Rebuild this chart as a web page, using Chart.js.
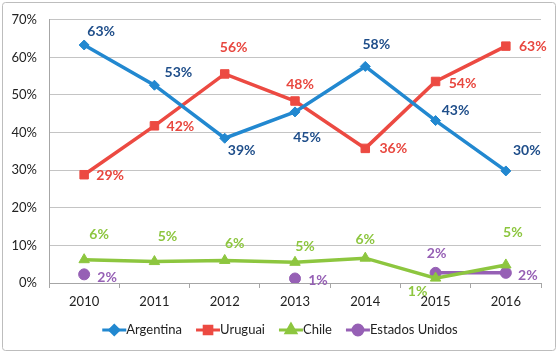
<!DOCTYPE html>
<html><head><meta charset="utf-8">
<script src="https://cdn.jsdelivr.net/npm/chart.js@4.4.0/dist/chart.umd.min.js"></script>
<style>html,body{margin:0;padding:0;background:#fff}#wrap{width:558px;height:353px;position:relative}</style>
</head><body><div id="wrap"><canvas id="c" width="558" height="353"></canvas></div>
<script>
const years = ['2010','2011','2012','2013','2014','2015','2016'];
const argentina = [63.3, 52.6, 38.5, 45.5, 57.6, 43.2, 29.8];
const uruguai = [28.8, 41.8, 55.6, 48.4, 35.8, 53.6, 63.0];
const chile = [6.2, 5.7, 6.0, 5.5, 6.6, 1.3, 4.8];
const estadosUnidos = [2.3, null, null, 1.2, null, 2.7, 2.7];
const argentinaLabels = ['63%','53%','39%','45%','58%','43%','30%'];
const uruguaiLabels = ['29%','42%','56%','48%','36%','54%','63%'];
const chileLabels = ['6%','5%','6%','5%','6%','1%','5%'];
const estadosUnidosLabels = ['2%','','','1%','','2%','2%'];
const yTicks = [0,10,20,30,40,50,60,70];

const FONT = 'Lato, "Liberation Sans", sans-serif';

const labelOffsets = [
  [[17,-14],[24,-13],[17,12],[12,26],[11,-22],[20,-10],[21,-20]],
  [[26,1],[26,1],[9,-26],[5,-17],[28,0],[27,2],[27,0]],
  [[15,-25],[13,-25],[10,-17],[10,-16],[0,-19],[-18,13],[7,-32]],
  [[23,3],[0,0],[0,0],[23,2],[0,0],[1,-19],[22,3]]
];
const labelColors = ['#1F4E8A','#E8473F','#8DC63F','#9660B5'];
const allLabels = [argentinaLabels, uruguaiLabels, chileLabels, estadosUnidosLabels];

const pointLabels = {
  id: 'pointLabels',
  afterDatasetsDraw(chart) {
    const ctx = chart.ctx;
    ctx.save();
    ctx.font = 'bold 14px ' + FONT;
    ctx.textAlign = 'center';
    ctx.textBaseline = 'middle';
    chart.data.datasets.forEach((ds, di) => {
      const meta = chart.getDatasetMeta(di);
      meta.data.forEach((pt, i) => {
        const txt = allLabels[di][i];
        if (!txt || ds.data[i] == null) return;
        const off = labelOffsets[di][i];
        ctx.fillStyle = labelColors[di];
        ctx.fillText(txt, pt.x + off[0], pt.y + off[1]);
      });
    });
    ctx.restore();
  }
};

const frameAndLegend = {
  id: 'frameAndLegend',
  beforeDraw(chart) {
    const ctx = chart.ctx;
    ctx.save();
    ctx.fillStyle = '#fff';
    ctx.fillRect(0, 0, chart.width, chart.height);
    ctx.strokeStyle = '#bdbdbd';
    ctx.lineWidth = 1;
    ctx.beginPath();
    if (ctx.roundRect) ctx.roundRect(2.5, 2.5, 553, 348, 3); else ctx.rect(2.5, 2.5, 553, 348);
    ctx.stroke();
    ctx.restore();
  },
  afterDraw(chart) {
    const ctx = chart.ctx;
    ctx.save();
    ctx.font = '13px ' + FONT;
    ctx.textBaseline = 'middle';
    const lineLen = 24, gap = 14, y = 330;
    const items = chart.data.datasets.map(ds => ({ds, w: lineLen + ctx.measureText(ds.label).width}));
    const total = items.reduce((s, it) => s + it.w, 0) + gap * (items.length - 1);
    let x = 280 - total / 2;
    items.forEach(it => {
      const ds = it.ds;
      ctx.strokeStyle = ds.borderColor;
      ctx.lineWidth = 3;
      ctx.beginPath();
      ctx.moveTo(x, y); ctx.lineTo(x + lineLen, y); ctx.stroke();
      ctx.fillStyle = ds.pointBackgroundColor;
      ctx.strokeStyle = ds.pointBorderColor;
      Chart.helpers.drawPoint(ctx, {pointStyle: ds.pointStyle, radius: ds.pointRadius * 0.9, rotation: 0, borderWidth: 1}, x + lineLen / 2, y);
      ctx.fillStyle = '#222';
      ctx.textAlign = 'left';
      ctx.fillText(ds.label, x + lineLen, y);
      x += it.w + gap;
    });
    ctx.restore();
  }
};

function mkDs(label, data, color, style, radius) {
  return {
    label, data,
    borderColor: color, backgroundColor: color,
    pointBackgroundColor: color, pointBorderColor: color,
    pointStyle: style, pointRadius: radius, pointBorderWidth: 1,
    borderWidth: 3.5, tension: 0, spanGaps: false
  };
}

new Chart(document.getElementById('c'), {
  type: 'line',
  data: {
    labels: years,
    datasets: [
      mkDs('Argentina', argentina, '#2288D0', 'rectRot', 5),
      mkDs('Uruguai', uruguai, '#EC4A42', 'rect', 6),
      mkDs('Chile', chile, '#8DC63F', 'triangle', 6),
      mkDs('Estados Unidos', estadosUnidos, '#9660B5', 'circle', 5.5)
    ]
  },
  options: {
    responsive: false,
    animation: false,
    devicePixelRatio: 1,
    layout: {padding: {left: 0, top: 18, right: 17, bottom: 0}},
    plugins: {legend: {display: false}, tooltip: {enabled: false}},
    scales: {
      x: {
        type: 'category', offset: true,
        grid: {offset: true, drawOnChartArea: false, drawTicks: true, tickLength: 5, color: '#a6a6a6'},
        border: {color: '#a6a6a6'},
        ticks: {padding: 6, color: '#222', font: {family: FONT, size: 13}, maxRotation: 0},
        afterFit(s) { s.height = 70; }
      },
      y: {
        min: 0, max: 70,
        afterBuildTicks(s) { s.ticks = yTicks.map(v => ({value: v})); },
        grid: {color: '#c4c4c4', drawTicks: false},
        border: {color: '#a6a6a6'},
        ticks: {padding: 12, color: '#222', font: {family: FONT, size: 13}, callback: v => v + '%'},
        afterFit(s) { s.width = 49; }
      }
    }
  },
  plugins: [frameAndLegend, pointLabels]
});
</script>
</body></html>
